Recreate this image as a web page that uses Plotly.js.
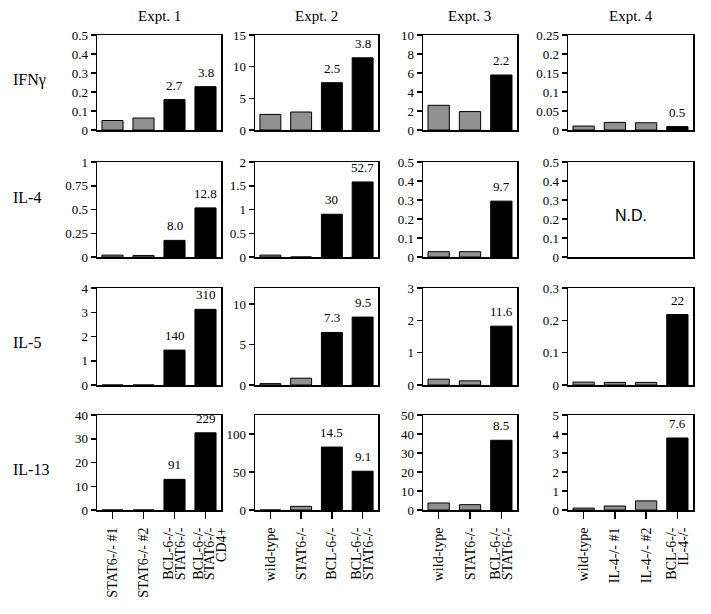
<!DOCTYPE html>
<html><head><meta charset="utf-8">
<script src="https://cdn.plot.ly/plotly-3.0.1.min.js"></script>
<style>html,body{margin:0;padding:0;background:#fff}</style>
</head><body><div id="chart" style="width:711px;height:614px"></div>
<script>
const experiments = ['Expt. 1', 'Expt. 2', 'Expt. 3', 'Expt. 4'];
const cytokines = ['IFNγ', 'IL-4', 'IL-5', 'IL-13'];

const expt1Groups = ['STAT6-/- #1', 'STAT6-/- #2', 'BCL-6-/-<br>STAT6-/-', 'BCL-6-/-<br>STAT6-/-<br>CD4+'];
const expt2Groups = ['wild-type', 'STAT6-/-', 'BCL-6-/-', 'BCL-6-/-<br>STAT6-/-'];
const expt3Groups = ['wild-type', 'STAT6-/-', 'BCL-6-/-<br>STAT6-/-'];
const expt4Groups = ['wild-type', 'IL-4-/- #1', 'IL-4-/- #2', 'BCL-6-/-<br>IL-4-/-'];

// IFN-gamma
const ifngExpt1 = [0.05, 0.063, 0.16, 0.228];
const ifngExpt1Fold = ['', '', '2.7', '3.8'];
const ifngExpt2 = [2.46, 2.84, 7.47, 11.4];
const ifngExpt2Fold = ['', '', '2.5', '3.8'];
const ifngExpt3 = [2.6, 1.94, 5.79];
const ifngExpt3Fold = ['', '', '2.2'];
const ifngExpt4 = [0.0104, 0.02, 0.019, 0.009];
const ifngExpt4Fold = ['', '', '', '0.5'];

// IL-4
const il4Expt1 = [0.02, 0.015, 0.175, 0.517];
const il4Expt1Fold = ['', '', '8.0', '12.8'];
const il4Expt2 = [0.04, 0, 0.9, 1.58];
const il4Expt2Fold = ['', '', '30', '52.7'];
const il4Expt3 = [0.028, 0.028, 0.294];
const il4Expt3Fold = ['', '', '9.7'];
const il4Expt4 = [null, null, null, null]; // N.D.
const il4Expt4Fold = ['', '', '', ''];

// IL-5
const il5Expt1 = [0, 0, 1.44, 3.12];
const il5Expt1Fold = ['', '', '140', '310'];
const il5Expt2 = [0.17, 0.84, 6.5, 8.4];
const il5Expt2Fold = ['', '', '7.3', '9.5'];
const il5Expt3 = [0.18, 0.13, 1.82];
const il5Expt3Fold = ['', '', '11.6'];
const il5Expt4 = [0.009, 0.008, 0.008, 0.218];
const il5Expt4Fold = ['', '', '', '22'];

// IL-13
const il13Expt1 = [0, 0, 12.9, 32.5];
const il13Expt1Fold = ['', '', '91', '229'];
const il13Expt2 = [0, 4.8, 82.8, 51];
const il13Expt2Fold = ['', '', '14.5', '9.1'];
const il13Expt3 = [3.7, 2.8, 36.7];
const il13Expt3Fold = ['', '', '8.5'];
const il13Expt4 = [0.1, 0.21, 0.48, 3.79];
const il13Expt4Fold = ['', '', '', '7.6'];

const groups = [expt1Groups, expt2Groups, expt3Groups, expt4Groups];
const panels = [
  [[ifngExpt1, ifngExpt1Fold], [ifngExpt2, ifngExpt2Fold], [ifngExpt3, ifngExpt3Fold], [ifngExpt4, ifngExpt4Fold]],
  [[il4Expt1, il4Expt1Fold], [il4Expt2, il4Expt2Fold], [il4Expt3, il4Expt3Fold], [il4Expt4, il4Expt4Fold]],
  [[il5Expt1, il5Expt1Fold], [il5Expt2, il5Expt2Fold], [il5Expt3, il5Expt3Fold], [il5Expt4, il5Expt4Fold]],
  [[il13Expt1, il13Expt1Fold], [il13Expt2, il13Expt2Fold], [il13Expt3, il13Expt3Fold], [il13Expt4, il13Expt4Fold]]
];

// axis scales per panel: [max, dtick]
const yScale = [
  [[0.5, 0.1], [15, 5], [10, 2], [0.25, 0.05]],
  [[1, 0.25], [2, 0.5], [0.5, 0.1], [0.5, 0.1]],
  [[4, 1], [12, 5], [3, 1], [0.3, 0.1]],
  [[40, 10], [125, 50], [50, 10], [5, 1]]
];
const W = 711, H = 614;
const colPx = [[97, 221], [255, 378], [423, 517], [568, 693]];
const rowPx = [[35, 130], [162, 257], [288, 385], [415, 510]];
const lineGapPx = 11.5;

const serif = "'Liberation Serif', 'Times New Roman', serif";
const traces = [];
const layout = {
  width: W, height: H,
  margin: {l: 0, r: 0, t: 0, b: 0},
  paper_bgcolor: '#fff', plot_bgcolor: '#fff',
  showlegend: false,
  bargap: 0.32,
  font: {family: serif, color: '#000', size: 13},
  annotations: []
};

for (let r = 0; r < 4; r++) {
  for (let c = 0; c < 4; c++) {
    const k = r * 4 + c + 1;
    const xs = k === 1 ? 'x' : 'x' + k;
    const ys = k === 1 ? 'y' : 'y' + k;
    const cats = groups[c];
    const [vals, fold] = panels[r][c];
    const isBcl = cats.map(g => g.startsWith('BCL-6'));
    traces.push({
      type: 'bar', x: cats.map((_, i) => i), y: vals, xaxis: xs, yaxis: ys,
      hoverinfo: 'skip',
      marker: {
        color: isBcl.map(b => b ? '#000' : '#a6a6a6'),
        line: {color: '#000', width: 1},
        pattern: {shape: isBcl.map(b => b ? '' : '.'), fillmode: 'overlay', fgcolor: '#6a6a6a', size: 2, solidity: 0.5}
      }
    });
    fold.forEach((t, i) => {
      if (!t) return;
      layout.annotations.push({
        text: t, xref: xs, yref: ys, x: i, y: vals[i] || 0,
        xanchor: 'center', yanchor: 'bottom', yshift: 5, showarrow: false,
        font: {family: serif, size: 13, color: '#000'}
      });
    });
    const bottom = r === 3;
    layout['xaxis' + (k === 1 ? '' : k)] = {
      domain: [colPx[c][0] / W, colPx[c][1] / W],
      anchor: ys, type: 'linear',
      range: [-0.5, cats.length - 0.5],
      tickvals: cats.map((_, i) => i),
      showline: true, linecolor: '#000', linewidth: 1.5, mirror: true,
      showgrid: false, zeroline: false,
      ticks: bottom ? 'outside' : '', ticklen: 7, tickwidth: 1.5, tickcolor: '#000',
      showticklabels: false
    };
    layout['yaxis' + (k === 1 ? '' : k)] = {
      domain: [1 - rowPx[r][1] / H, 1 - rowPx[r][0] / H],
      anchor: xs, range: [0, yScale[r][c][0]], dtick: yScale[r][c][1], tick0: 0,
      showline: true, linecolor: '#000', linewidth: 1.5, mirror: true,
      showgrid: false, zeroline: false,
      ticks: 'outside', ticklen: 5, tickwidth: 1.5, tickcolor: '#000',
      tickfont: {family: serif, size: 13, color: '#000'}
    };
    if (bottom) {
      // category names, one tick label per text line, on an overlaid axis
      const catPx = (colPx[c][1] - colPx[c][0]) / cats.length;
      const tv = [], tt = [];
      cats.forEach((g, i) => {
        const lines = g.split('<br>');
        const n = lines.length;
        lines.forEach((ln, j) => {
          const off = (j - (n - 1) / 2) * lineGapPx + (n > 2 ? 4 : 0);
          tv.push(i + off / catPx);
          tt.push(ln);
        });
      });
      const lk = 16 + c + 1;
      layout['xaxis' + lk] = {
        overlaying: xs, anchor: ys, side: 'bottom', type: 'linear',
        range: [-0.5, cats.length - 0.5],
        tickvals: tv, ticktext: tt, tickangle: -90,
        showline: false, showgrid: false, zeroline: false,
        ticks: 'outside', ticklen: 11, tickcolor: 'rgba(0,0,0,0)',
        tickfont: {family: serif, size: 14, color: '#000'}
      };
      traces.push({type: 'scatter', x: [], y: [], xaxis: 'x' + lk, yaxis: ys, hoverinfo: 'skip'});
    }
  }
}

experiments.forEach((e, c) => {
  layout.annotations.push({
    text: e, xref: 'paper', yref: 'paper', xanchor: 'center', yanchor: 'middle',
    x: (colPx[c][0] + colPx[c][1]) / 2 / W, y: 1 - 16 / H,
    showarrow: false, font: {family: serif, size: 15, color: '#000'}
  });
});
const rowLabelY = [80, 198, 342, 469];
cytokines.forEach((cy, r) => {
  layout.annotations.push({
    text: cy, xref: 'paper', yref: 'paper', xanchor: 'left', yanchor: 'middle',
    x: 11 / W, y: 1 - rowLabelY[r] / H,
    showarrow: false, font: {family: serif, size: 16, color: '#000'}
  });
});
layout.annotations.push({
  text: 'N.D.', xref: 'x8 domain', yref: 'y8 domain', x: 0.5, y: 0.44,
  xanchor: 'center', yanchor: 'middle',
  showarrow: false, font: {family: "'Liberation Sans', Arial, sans-serif", size: 16, color: '#000'}
});

Plotly.newPlot('chart', traces, layout, {staticPlot: true});
</script></body></html>
